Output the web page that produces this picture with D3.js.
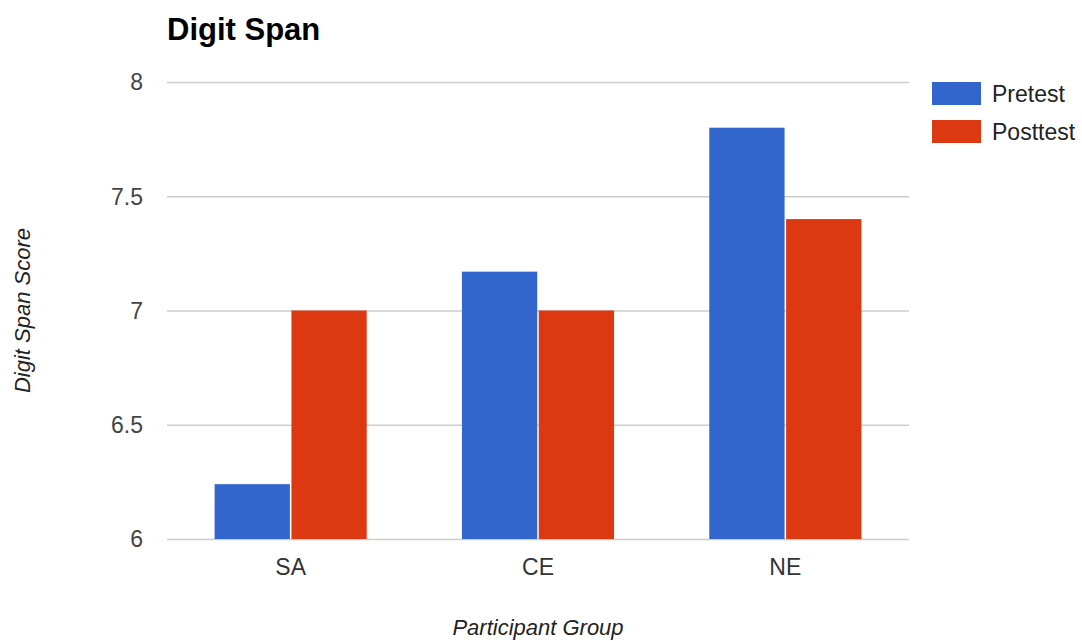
<!DOCTYPE html>
<html>
<head>
<meta charset="utf-8">
<script src="https://cdn.jsdelivr.net/npm/d3@7"></script>
<style>
  body { margin: 0; background: #fff; }
  svg { font-family: "Liberation Sans", Arial, sans-serif; }
  .grid line { stroke: #cccccc; stroke-width: 1.5; }
  .grid .domain { display: none; }
</style>
</head>
<body>
<svg width="1082" height="641"></svg>
<script>
const groups = ["SA", "CE", "NE"];
const seriesNames = ["Pretest", "Posttest"];
const pretest = [6.24, 7.17, 7.8];
const posttest = [7.0, 7.0, 7.4];
const yTicks = [6, 6.5, 7, 7.5, 8];
const colors = ["#3366cc", "#dc3912"];

const svg = d3.select("svg");
const margin = {left: 167, right: 173, top: 82, bottom: 102};
const width = 1082 - margin.left - margin.right;
const height = 641 - margin.top - margin.bottom;

const g = svg.append("g").attr("transform", `translate(${margin.left},${margin.top})`);

const x = d3.scaleBand().domain(groups).range([0, width]).paddingInner(0.385).paddingOuter(0.1925);
const xInner = d3.scaleBand().domain(seriesNames).range([0, x.bandwidth()]).paddingInner(0.02);
const y = d3.scaleLinear().domain([6, 8]).range([height, 0]);

// gridlines
g.append("g").attr("class", "grid")
  .call(d3.axisLeft(y).tickValues(yTicks).tickSize(-width).tickFormat(""));

// y labels
g.selectAll(".ylab").data(yTicks).enter().append("text")
  .attr("x", -24)
  .attr("y", d => y(d))
  .attr("dy", "0.36em")
  .attr("text-anchor", "end")
  .attr("font-size", 23)
  .attr("fill", "#444")
  .text(d => d);

const rows = groups.map((grp, i) => ({grp, vals: [pretest[i], posttest[i]]}));

const grpG = g.selectAll(".grp").data(rows).enter().append("g")
  .attr("transform", d => `translate(${x(d.grp)},0)`);

grpG.selectAll("rect").data(d => d.vals.map((v, j) => ({v, s: seriesNames[j], j})))
  .enter().append("rect")
  .attr("x", d => xInner(d.s))
  .attr("width", xInner.bandwidth())
  .attr("y", d => y(d.v))
  .attr("height", d => height - y(d.v))
  .attr("fill", d => colors[d.j]);

// x labels
g.selectAll(".xlab").data(groups).enter().append("text")
  .attr("x", d => x(d) + x.bandwidth() / 2)
  .attr("y", height + 36)
  .attr("text-anchor", "middle")
  .attr("font-size", 23)
  .attr("fill", "#333")
  .text(d => d);

// title
svg.append("text")
  .attr("x", 167).attr("y", 40)
  .attr("font-size", 31)
  .attr("font-weight", "bold")
  .attr("fill", "#000")
  .text("Digit Span");

// axis titles
svg.append("text")
  .attr("x", margin.left + width / 2)
  .attr("y", 635)
  .attr("text-anchor", "middle")
  .attr("font-size", 22)
  .attr("font-style", "italic")
  .attr("fill", "#222")
  .text("Participant Group");

svg.append("text")
  .attr("transform", `translate(30,${margin.top + height / 2}) rotate(-90)`)
  .attr("text-anchor", "middle")
  .attr("font-size", 22)
  .attr("font-style", "italic")
  .attr("fill", "#222")
  .text("Digit Span Score");

// legend
const leg = svg.append("g").attr("transform", "translate(932,82)");
const li = leg.selectAll("g").data(seriesNames).enter().append("g")
  .attr("transform", (d, i) => `translate(0,${i * 38})`);
li.append("rect").attr("width", 49).attr("height", 23).attr("fill", (d, i) => colors[i]);
li.append("text").attr("x", 60).attr("y", 11.5).attr("dy", "0.36em")
  .attr("font-size", 23).attr("fill", "#222").text(d => d);
</script>
</body>
</html>
